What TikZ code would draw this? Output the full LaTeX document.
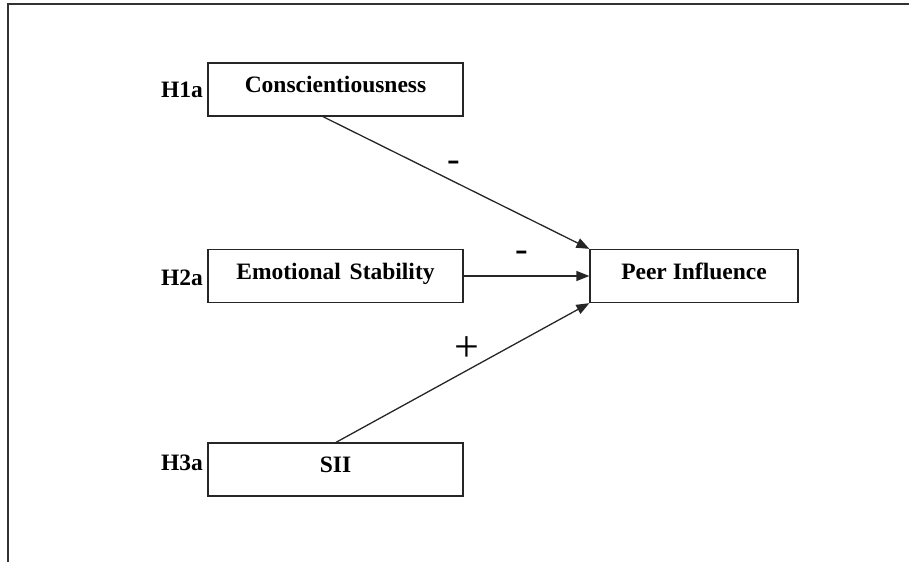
\documentclass[tikz,border=0pt]{standalone}
\usepackage{fontspec}
\setmainfont{Liberation Serif}
\usetikzlibrary{arrows.meta,calc}
\begin{document}
\begin{tikzpicture}[x=1pt,y=-1pt,
  varbox/.style={draw=black!85, line width=1.3pt, rectangle, inner sep=0pt,
    minimum width=255pt, minimum height=53pt,
    text height=17pt, text depth=11pt,
    font=\fontsize{23.5}{28}\selectfont\bfseries},
  hyplabel/.style={anchor=base east, inner sep=0pt,
    font=\fontsize{23.5}{28}\selectfont\bfseries},
  sign/.style={inner sep=0pt, font=\fontsize{38}{42}\selectfont},
  path arrow/.style={draw=black!85, line width=1.3pt,
    -{Triangle[length=13pt,width=10pt]}},
  frameline/.style={draw=black!80, line width=1.5pt}]
  \useasboundingbox (0,0) rectangle (909,562);
  % partial frame
  \coordinate (ftl) at (8,4);
  \coordinate (ftr) at (909,4);
  \coordinate (fbl) at (8,562);
  \draw[frameline] (fbl) -- (ftl) -- (ftr);
  % variables
  \node[varbox] (c) at (335.5,89.5) {Conscientiousness};
  \node[varbox] (e) at (335.5,276) {Emotional\hspace{3pt} Stability};
  \node[varbox] (s) at (335.5,469.5) {SII};
  \node[varbox, minimum width=208pt] (p) at (694,276) {Peer Influence};
  % hypothesis labels
  \node[hyplabel] (h1) at (203,97) {H1a};
  \node[hyplabel] (h2) at (203,285) {H2a};
  \node[hyplabel] (h3) at (203,470) {H3a};
  % paths
  \draw[path arrow] ([xshift=-12.5pt]c.south) -- (p.north west);
  \draw[path arrow] (e.east) -- (p.west);
  \draw[path arrow] ([xshift=0.5pt]s.north) -- (p.south west);
  % signs
  \node[sign] (sg1) at (454,166) {-};
  \node[sign] (sg2) at (522,256) {-};
  \node[sign, font=\fontsize{44}{48}\selectfont] (sg3) at (467,349) {+};
\end{tikzpicture}
\end{document}
